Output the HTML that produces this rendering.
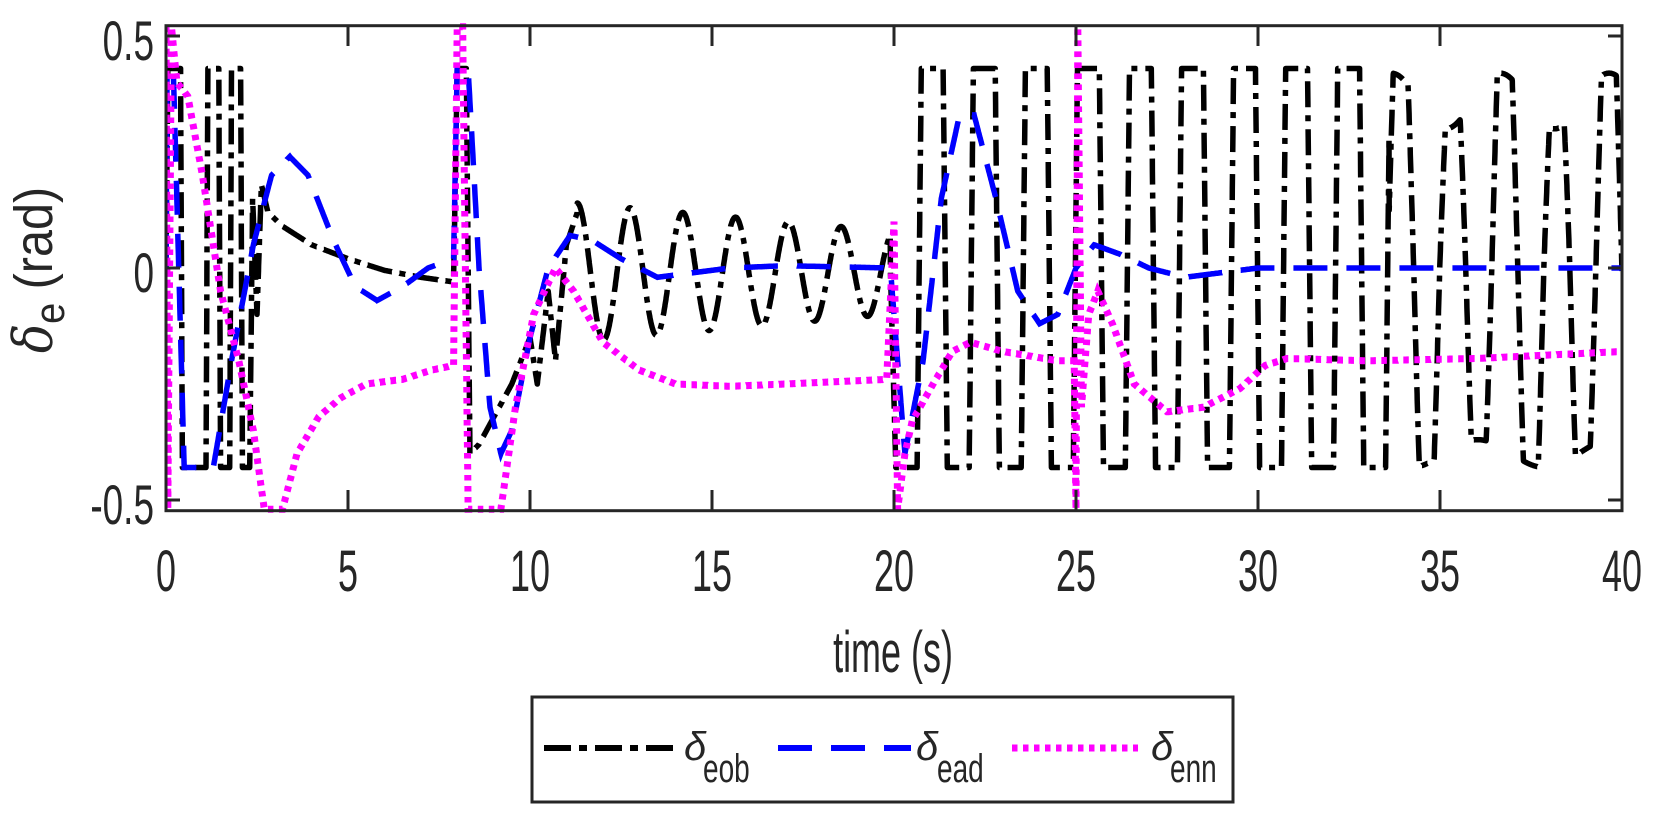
<!DOCTYPE html>
<html><head><meta charset="utf-8">
<style>
html,body{margin:0;padding:0;background:#fff;}
svg{display:block;}
text{font-family:"Liberation Sans",Arial,sans-serif;fill:#262626;}
</style></head>
<body>
<svg id="s" width="1667" height="830" viewBox="0 0 1667 830" xmlns="http://www.w3.org/2000/svg">
<defs><clipPath id="c"><rect x="166" y="20" width="1456" height="495"/></clipPath></defs>
<rect x="0" y="0" width="1667" height="830" fill="#fff"/>
<g id="series" clip-path="url(#c)"></g>
<rect x="166" y="25.7" width="1456" height="485" fill="none" stroke="#262626" stroke-width="3"/>
<g id="ticks" stroke="#262626" stroke-width="3"></g>
<g id="labels"></g>
<g transform="translate(52,270) rotate(-90)">
<text x="0" y="0" font-size="54" text-anchor="middle" transform="scale(0.9,1)"><tspan font-family="DejaVu Serif, serif" font-style="italic">δ</tspan><tspan font-size="42" dy="12">e</tspan><tspan dy="-12"> (rad)</tspan></text>
</g>
<text x="0" y="0" font-size="58" text-anchor="middle" transform="translate(893,672) scale(0.62,1)">time (s)</text>
<rect x="532" y="697" width="701" height="105" fill="#fff" stroke="#262626" stroke-width="3"/>
<line x1="544" y1="748" x2="677" y2="748" stroke="#000" stroke-width="6" stroke-dasharray="27,8,8,8"/>
<line x1="778" y1="748" x2="911" y2="748" stroke="#0000ff" stroke-width="6" stroke-dasharray="34,19"/>
<line x1="1012" y1="748" x2="1138" y2="748" stroke="#ff00ff" stroke-width="7" stroke-dasharray="5.5,5.5"/>
<text x="684" y="760" font-size="40" font-family="DejaVu Serif, serif" font-style="italic" fill="#000">δ</text>
<text x="0" y="0" font-size="40" fill="#000" transform="translate(703,782) scale(0.7,1)">eob</text>
<text x="916" y="760" font-size="40" font-family="DejaVu Serif, serif" font-style="italic" fill="#000">δ</text>
<text x="0" y="0" font-size="40" fill="#000" transform="translate(937,782) scale(0.7,1)">ead</text>
<text x="1151" y="760" font-size="40" font-family="DejaVu Serif, serif" font-style="italic" fill="#000">δ</text>
<text x="0" y="0" font-size="40" fill="#000" transform="translate(1170,782) scale(0.7,1)">enn</text>
</svg>
<script>
(function(){
var NS="http://www.w3.org/2000/svg";
function X(t){return 166+36.4*t;}
function Y(v){return 268-464*v;}
function el(n,a,p){var e=document.createElementNS(NS,n);for(var k in a)if(k!=='txt')e.setAttribute(k,a[k]);(p||document.getElementById('series')).appendChild(e);if(a.txt){e.textContent=a.txt;}return e;}
function interp(p,t){if(t<=p[0][0])return p[0][1];for(var i=1;i<p.length;i++){if(t<=p[i][0]){var a=p[i-1],b=p[i];return a[1]+(b[1]-a[1])*(t-a[0])/(b[0]-a[0]);}}return p[p.length-1][1];}
function clamp(v,a){return Math.max(-a,Math.min(a,v));}
var bk=[[0,0],[0.05,0.43],[0.4,0.43],[0.45,-0.43],[1.1,-0.43],[1.15,0.43],[1.45,0.43],[1.5,-0.43],[1.75,-0.43],[1.8,0.43],[2.05,0.43],[2.1,-0.43],[2.3,-0.43],[2.38,0.15],[2.5,-0.1],[2.62,0.18],[2.8,0.12],[3.2,0.09],[4,0.05],[5,0.02],[6,-0.005],[7,-0.02],[7.9,-0.03],[8.0,0.43],[8.25,0.43],[8.35,-0.4],[8.6,-0.38],[9.5,-0.25],[10,-0.15],[10.2,-0.25],[10.5,-0.05],[10.7,-0.2],[11.0,0.05],[11.3,0.12]];
function black(t){
 if(t<=11.3)return interp(bk,t);
 if(t<19.9){var A=0.15-0.06*(t-11.3)/8.6;return -0.01+A*Math.cos(2*Math.PI*(t-11.3)/1.45);}
 if(t<20.1){return interp([[19.9,0.0],[20.05,-0.43],[20.1,-0.43]],t);}
 var ph=2*Math.PI*(t-21.05)/1.43;var s=Math.cos(ph);
 if(t<33.6)return 0.43*clamp(4*s,1);
 var amp=s>0?(0.36+0.06*Math.sin(t*2.1)):(0.4+0.03*Math.sin(t*1.7));
 return clamp(amp*clamp(1.6*s,1),0.43);
}
var bl=[[0,0],[0.03,0.43],[0.2,0.43],[0.5,-0.43],[1.3,-0.43],[1.8,-0.2],[2.4,0.05],[2.9,0.2],[3.4,0.24],[3.9,0.2],[4.6,0.06],[5.2,-0.04],[5.8,-0.07],[6.5,-0.04],[7.2,0.0],[7.9,0.02],[8.0,0.43],[8.3,0.43],[8.6,0.0],[8.9,-0.3],[9.2,-0.4],[9.5,-0.35],[10,-0.15],[10.5,0.0],[11.1,0.07],[11.7,0.06],[12.5,0.02],[13.5,-0.02],[14.5,-0.01],[15.5,0.0],[17,0.005],[19.9,0.0],[20.3,-0.4],[20.8,-0.2],[21.3,0.15],[21.8,0.33],[22.2,0.33],[22.8,0.15],[23.4,-0.05],[24.0,-0.12],[24.5,-0.1],[25,0.0],[25.5,0.05],[26.2,0.03],[27,0.0],[28,-0.02],[29,-0.01],[30,0.0],[32,0.0],[40,0.0]];
var mg=[[0,0.52],[0.05,-0.52],[0.15,0.52],[0.3,0.4],[0.6,0.37],[1.0,0.2],[1.5,-0.05],[2.0,-0.2],[2.4,-0.35],[2.7,-0.52],[3.2,-0.52],[3.6,-0.4],[4.2,-0.32],[4.8,-0.28],[5.5,-0.25],[6.5,-0.24],[7.3,-0.22],[7.9,-0.21],[8.0,0.52],[8.15,0.52],[8.3,-0.52],[9.2,-0.52],[9.6,-0.3],[10.1,-0.1],[10.7,0.0],[11.2,-0.05],[12,-0.16],[13,-0.22],[14,-0.25],[15.5,-0.255],[17,-0.25],[19.8,-0.24],[20.0,0.1],[20.1,-0.52],[20.3,-0.4],[20.5,-0.33],[21,-0.26],[21.6,-0.18],[22.1,-0.16],[23,-0.18],[24.5,-0.2],[24.95,-0.2],[25.0,-0.52],[25.05,0.52],[25.15,-0.3],[25.35,-0.1],[25.6,-0.05],[26,-0.12],[26.6,-0.25],[27.5,-0.31],[28.5,-0.3],[29.5,-0.26],[30.2,-0.21],[30.8,-0.195],[33,-0.2],[36,-0.195],[40,-0.18]];
function path(f,dt){var d="";for(var t=0;t<=40.0001;t+=dt){d+=(d?"L":"M")+X(t).toFixed(1)+","+Y(f(t)).toFixed(1);}return d;}
el('path',{d:path(black,0.005),fill:'none',stroke:'#000','stroke-width':5.5,'stroke-dasharray':'26,8,6,8','stroke-linejoin':'round'});
el('path',{d:path(function(t){return interp(bl,t);},0.01),fill:'none',stroke:'#0000ff','stroke-width':5.5,'stroke-dasharray':'34,19'});
el('path',{d:path(function(t){return interp(mg,t);},0.01),fill:'none',stroke:'#ff00ff','stroke-width':7,'stroke-dasharray':'5.5,5.5'});
var tg=document.getElementById('ticks'),lg=document.getElementById('labels');
for(var k=0;k<=8;k++){var x=X(5*k);
 if(k>0&&k<8){el('line',{x1:x,y1:25.7,x2:x,y2:46},tg);el('line',{x1:x,y1:510.7,x2:x,y2:490},tg);}
 el('text',{x:0,y:0,'font-size':58,'text-anchor':'middle',transform:'translate('+x+',591) scale(0.62,1)',txt:String(5*k)},lg);
}
[[0.5,'0.5'],[0,'0'],[-0.5,'-0.5']].forEach(function(p){var y=Y(p[0]);
 el('line',{x1:166,y1:y,x2:180,y2:y},tg);el('line',{x1:1622,y1:y,x2:1608,y2:y},tg);
 el('text',{x:0,y:0,'font-size':56,'text-anchor':'end',transform:'translate(154,'+(y+24)+') scale(0.66,1)',txt:p[1]},lg);
});
})();
</script>
</body></html>
